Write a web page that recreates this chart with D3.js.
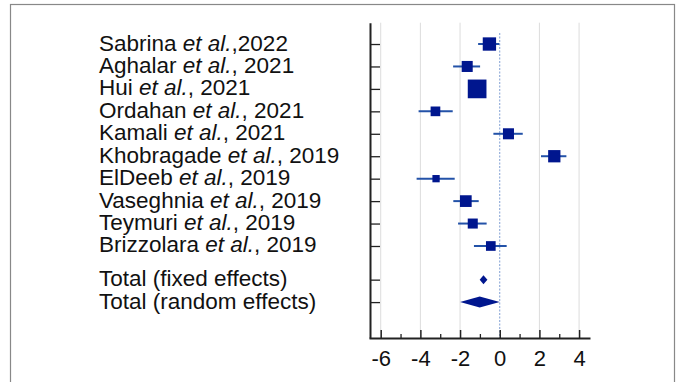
<!DOCTYPE html>
<html>
<head>
<meta charset="utf-8">
<script src="https://cdn.jsdelivr.net/npm/d3@7"></script>
<style>
  body { margin: 0; background: #fff; }
  svg { display: block; font-family: "Liberation Sans", Arial, sans-serif; }
  .label { font-size: 22.5px; fill: #111; }
  .x.axis text { font-size: 22px; fill: #111; }
</style>
</head>
<body>
<svg width="678" height="382"></svg>
<script>
// studies
var authors = ["Sabrina", "Aghalar", "Hui", "Ordahan", "Kamali", "Khobragade", "ElDeeb", "Vaseghnia", "Teymuri", "Brizzolara"];
var years = [",2022", ", 2021", ", 2021", ", 2021", ", 2021", ", 2019", ", 2019", ", 2019", ", 2019", ", 2019"];
var estimates = [-0.52, -1.64, -1.14, -3.24, 0.44, 2.75, -3.21, -1.71, -1.36, -0.45];
var lower = [-1.09, -2.35, -1.5, -4.09, -0.32, 2.08, -4.19, -2.34, -2.10, -1.30];
var upper = [-0.02, -0.99, -0.8, -2.37, 1.16, 3.36, -2.27, -1.06, -0.66, 0.35];
var weights = [12.7, 8.7, 25.0, 6.7, 8.7, 10.8, 3.8, 9.8, 7.2, 6.7];

// pooled
var totalNames = ["Total (fixed effects)", "Total (random effects)"];
var totalEst = [-0.82, -1.01];
var totalLower = [-1.01, -2.0];
var totalUpper = [-0.62, 0.0];

var majorTicks = [-6, -4, -2, 0, 2, 4];
var minorTicks = [-5, -3, -1, 1, 3];

var svg = d3.select("svg");

// frame
svg.append("rect")
    .attr("x", 10.5).attr("y", 4.5)
    .attr("width", 664).attr("height", 420)
    .attr("fill", "none").attr("stroke", "#888").attr("stroke-width", 1.2);

var xScale = d3.scaleLinear().domain([-6.59, 4.55]).range([369, 590]);
var rowScale = d3.scaleLinear().domain([-0.95, 13.1]).range([22.7, 338]);
var sizeScale = d3.scaleSqrt().domain([0, 25]).range([0, 18.7]);

var studyPos = authors.map(function(d, i) { return i; });
var totalPos = [10.5, 11.5];

// grid
svg.append("g").selectAll("line")
    .data(majorTicks.filter(function(d) { return d != 0; }))
    .enter().append("line")
    .attr("x1", function(d) { return xScale(d); })
    .attr("x2", function(d) { return xScale(d); })
    .attr("y1", 22.7).attr("y2", 338)
    .attr("stroke", "#dcdcdc").attr("stroke-width", 1);

svg.append("line")
    .attr("x1", xScale(0)).attr("x2", xScale(0))
    .attr("y1", 33).attr("y2", 338)
    .attr("stroke", "#7f9fd3").attr("stroke-width", 1)
    .attr("stroke-dasharray", "2,1.5");

// axes
svg.append("g").attr("class", "x axis minor")
    .attr("transform", "translate(0,338)")
    .call(d3.axisBottom(xScale).tickValues(minorTicks).tickSize(-4).tickSizeOuter(0).tickFormat(""))
    .call(function(g) { g.select(".domain").remove(); });

svg.append("g").attr("class", "x axis")
    .attr("transform", "translate(0,338)")
    .call(d3.axisBottom(xScale).tickValues(majorTicks).tickSize(-8).tickSizeOuter(0).tickPadding(12)
        .tickFormat(function(d) { return String(d); }))
    .call(function(g) {
        g.attr("font-family", null).attr("font-size", null);
        g.selectAll("line").attr("stroke", "#222").attr("stroke-width", 1.5);
        g.select(".domain").attr("stroke", "#222").attr("stroke-width", 2);
    });
svg.selectAll(".minor line").attr("stroke", "#222").attr("stroke-width", 1.3);

svg.append("g").attr("class", "y axis")
    .attr("transform", "translate(370,0)")
    .call(d3.axisRight(rowScale).tickValues(studyPos.concat(totalPos)).tickSize(10).tickSizeOuter(0).tickFormat(""))
    .call(function(g) {
        g.selectAll("line").attr("stroke", "#222").attr("stroke-width", 1.3);
        g.select(".domain").attr("stroke", "#222").attr("stroke-width", 2);
    });

// labels
var labels = svg.append("g").selectAll("text")
    .data(authors)
    .enter().append("text")
    .attr("class", "label")
    .attr("x", 99)
    .attr("y", function(d, i) { return rowScale(i) + 6.5; });
labels.append("tspan").text(function(d) { return d + " "; });
labels.append("tspan").attr("font-style", "italic").text("et al.");
labels.append("tspan").text(function(d, i) { return years[i]; });

svg.append("g").selectAll("text")
    .data(totalNames)
    .enter().append("text")
    .attr("class", "label")
    .attr("x", 99)
    .attr("y", function(d, i) { return rowScale(totalPos[i]) + 6.5; })
    .text(function(d) { return d; });

// study marks
var rows = svg.append("g").selectAll("g")
    .data(estimates)
    .enter().append("g");

rows.append("line")
    .attr("x1", function(d, i) { return xScale(lower[i]); })
    .attr("x2", function(d, i) { return xScale(upper[i]); })
    .attr("y1", function(d, i) { return rowScale(i); })
    .attr("y2", function(d, i) { return rowScale(i); })
    .attr("stroke", "#2352a8").attr("stroke-width", 2);

rows.append("rect")
    .attr("x", function(d, i) { return xScale(d) - sizeScale(weights[i]) / 2; })
    .attr("y", function(d, i) { return rowScale(i) - sizeScale(weights[i]) / 2; })
    .attr("width", function(d, i) { return sizeScale(weights[i]); })
    .attr("height", function(d, i) { return sizeScale(weights[i]); })
    .attr("fill", "#00168e");

// pooled diamonds
var halfHeights = [4.5, 5.5];
svg.append("g").selectAll("polygon")
    .data(totalEst)
    .enter().append("polygon")
    .attr("points", function(d, i) {
        var y = rowScale(totalPos[i]), h = halfHeights[i];
        return [[xScale(totalLower[i]), y], [xScale(d), y - h], [xScale(totalUpper[i]), y], [xScale(d), y + h]].join(" ");
    })
    .attr("fill", "#00168e");
</script>
</body>
</html>
